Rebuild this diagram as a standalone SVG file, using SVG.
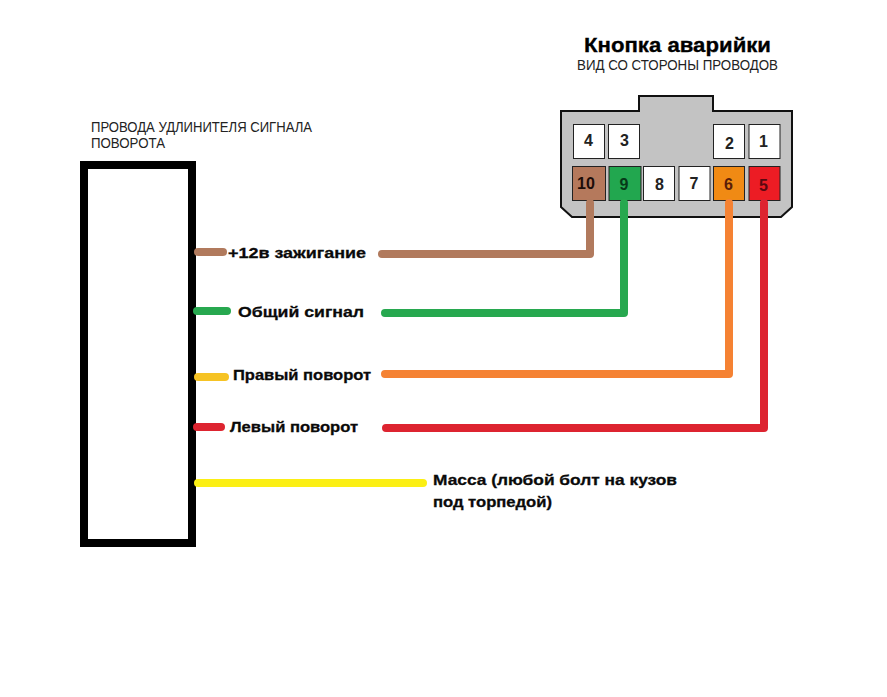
<svg xmlns="http://www.w3.org/2000/svg" width="887" height="697" viewBox="0 0 887 697">
<style>
text{font-family:"Liberation Sans",Arial,sans-serif;fill:#000}
.l{font-size:15px;font-weight:bold;fill:#0a0a0a;stroke:#0a0a0a;stroke-width:.3}
.s{font-size:14px;fill:#222}
.n{font-size:16px;font-weight:bold;text-anchor:middle;fill:#222}
.c{stroke:#222;stroke-width:1;fill:#fff}
.w{fill:none;stroke-width:8;stroke-linecap:round;stroke-linejoin:round}
</style>
<rect width="887" height="697" fill="#fff"/>
<g id="title"><text x="584" y="52" font-size="20" font-weight="bold" stroke="#000" stroke-width=".3" textLength="187" lengthAdjust="spacingAndGlyphs">Кнопка аварийки</text>
<text class="s" x="577" y="70" textLength="201" lengthAdjust="spacingAndGlyphs">ВИД СО СТОРОНЫ ПРОВОДОВ</text></g>
<g id="extender"><rect x="84" y="165" width="108" height="378" fill="#fff" stroke="#000" stroke-width="8"/>
<text class="s" x="91" y="132" textLength="221" lengthAdjust="spacingAndGlyphs">ПРОВОДА УДЛИНИТЕЛЯ СИГНАЛА</text>
<text class="s" x="91" y="148" textLength="74" lengthAdjust="spacingAndGlyphs">ПОВОРОТА</text></g>
<g id="connector"><path d="M561 111H639V96H713V111H792V207L781 217H572L561 207Z" fill="#c3c3c3" stroke="#111" stroke-width="2"/></g>
<g id="pin4"><rect class="c" x="573.500" y="124.500" width="31" height="34"/><text class="n" x="588.500" y="146">4</text></g>
<g id="pin3"><rect class="c" x="608.500" y="124.500" width="31" height="34"/><text class="n" x="624.500" y="146">3</text></g>
<g id="pin2"><rect class="c" x="713.500" y="124.500" width="31" height="34"/><text class="n" x="729.500" y="149">2</text></g>
<g id="pin1"><rect class="c" x="749" y="124.500" width="31" height="34"/><text class="n" x="763.500" y="147">1</text></g>
<g id="pin10"><rect class="c" style="fill:#b5795c" x="572.500" y="166.500" width="33" height="34"/><text class="n" style="fill:#1c0c08" x="586" y="189">10</text></g>
<g id="pin9"><rect class="c" style="fill:#22a74f" x="609" y="166.500" width="32" height="34"/><text class="n" style="fill:#063a18" x="624" y="190">9</text></g>
<g id="pin8"><rect class="c" x="643.500" y="166.500" width="31" height="34"/><text class="n" x="659.500" y="190">8</text></g>
<g id="pin7"><rect class="c" x="679" y="166.500" width="31" height="34"/><text class="n" x="694" y="189">7</text></g>
<g id="pin6"><rect class="c" style="fill:#f08a14" x="713.500" y="166.500" width="31" height="34"/><text class="n" style="fill:#5a1d08" x="728.500" y="190">6</text></g>
<g id="pin5"><rect class="c" style="fill:#ec1c24" x="749" y="166.500" width="31" height="34"/><text class="n" style="fill:#5a0810" x="763.500" y="191">5</text></g>
<g id="connectors">
<path class="w" stroke="#b17a5d" d="M590 203V254H382"/>
<path class="w" stroke="#27a84f" d="M624 203V313H385"/>
<path class="w" stroke="#f58233" d="M729 203V374H385"/>
<path class="w" stroke="#dd2430" d="M764 203V428H386"/>
<path class="w" stroke="#b17a5d" d="M198 252H223"/>
<path class="w" stroke="#27a84f" d="M197 311H227"/>
<path class="w" stroke="#f6c324" d="M198 377H225"/>
<path class="w" stroke="#dd2430" d="M197 427H221"/>
<path class="w" stroke="#fbef14" d="M198 483H423"/>
</g>
<g id="labels">
<text class="l" x="228" y="258" textLength="138" lengthAdjust="spacingAndGlyphs">+12в зажигание</text>
<text class="l" x="238" y="317" textLength="126" lengthAdjust="spacingAndGlyphs">Общий сигнал</text>
<text class="l" x="233" y="380" textLength="138" lengthAdjust="spacingAndGlyphs">Правый поворот</text>
<text class="l" x="230" y="432" textLength="128" lengthAdjust="spacingAndGlyphs">Левый поворот</text>
<text class="l" x="433" y="485" textLength="244" lengthAdjust="spacingAndGlyphs">Масса (любой болт на кузов</text>
<text class="l" x="433" y="507" textLength="119" lengthAdjust="spacingAndGlyphs">под торпедой)</text>
</g>
</svg>
